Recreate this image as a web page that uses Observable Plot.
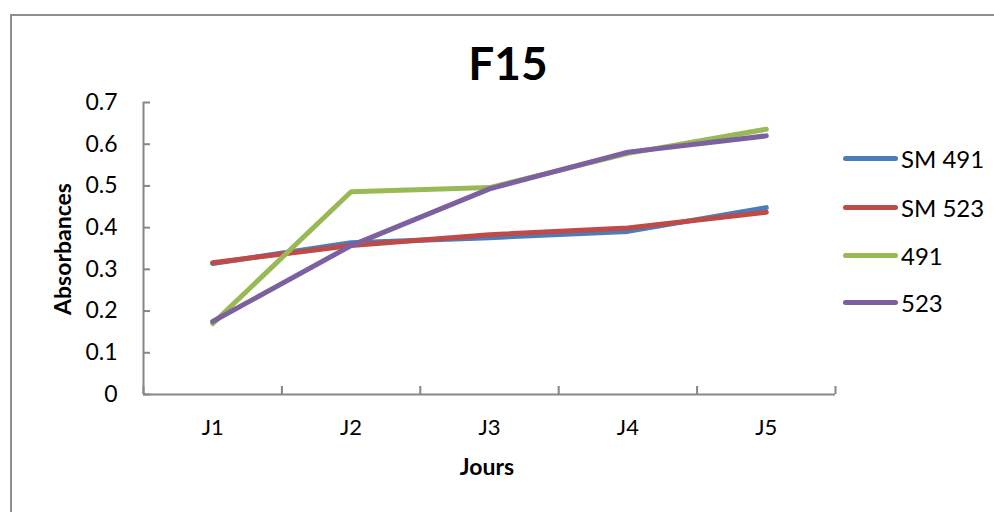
<!DOCTYPE html>
<html>
<head>
<meta charset="utf-8">
<script src="https://cdn.jsdelivr.net/npm/d3@7"></script>
<script src="https://cdn.jsdelivr.net/npm/@observablehq/plot@0.6"></script>
<style>
  html, body { margin: 0; padding: 0; background: #fff; overflow: hidden; }
  body { width: 994px; height: 512px; position: relative; font-family: Lato, "Open Sans", sans-serif; }
  #frame { position: absolute; left: 10px; top: 14px; width: 1000px; height: 520px; border: 2px solid #8e8e8e; box-sizing: border-box; }
  #chart { position: absolute; left: 0; top: 0; }
  .title { position: absolute; left: 0; width: 1016px; top: 35px; text-align: center; font-weight: bold; font-size: 46px; }
  .xtitle { position: absolute; left: 387px; width: 200px; top: 452px; text-align: center; font-weight: bold; font-size: 23px; }
  .ytitle { position: absolute; left: 62px; top: 249px; transform: translate(-50%, -50%) rotate(-90deg); font-weight: bold; font-size: 23px; white-space: nowrap; }
  .legend { position: absolute; left: 843px; top: 0; }
  .legend .item { position: absolute; left: 0; width: 160px; height: 30px; display: flex; align-items: center; font-size: 24px; }
  .legend .sw { width: 55px; height: 5px; border-radius: 3px; margin-right: 3px; }
</style>
</head>
<body>
<div id="frame"></div>
<div id="chart"></div>
<div class="title">F15</div>
<div class="xtitle">Jours</div>
<div class="ytitle">Absorbances</div>
<div class="legend" id="legend"></div>
<script>
const days = ["J1", "J2", "J3", "J4", "J5"];
const seriesNames = ["SM 491", "SM 523", "491", "523"];
const seriesColors = ["#4A7EBB", "#BE4B48", "#98B954", "#7D60A0"];
const sm491 = [0.314, 0.364, 0.376, 0.391, 0.448];
const sm523 = [0.316, 0.357, 0.383, 0.399, 0.437];
const v491 = [0.170, 0.486, 0.496, 0.578, 0.636];
const v523 = [0.175, 0.357, 0.493, 0.581, 0.620];
const yTicks = [0, 0.1, 0.2, 0.3, 0.4, 0.5, 0.6, 0.7];

const seriesValues = [sm491, sm523, v491, v523];
const rows = [];
seriesNames.forEach((name, s) => {
  seriesValues[s].forEach((v, i) => rows.push({series: name, idx: i + 1, day: days[i], value: v}));
});
const centers = days.map((d, i) => i + 1);
const bounds = [0.5, 1.5, 2.5, 3.5, 4.5, 5.5];
const axisColor = "#868686";

const plot = Plot.plot({
  width: 994,
  height: 512,
  marginLeft: 143,
  marginRight: 159,
  marginTop: 102,
  marginBottom: 118,
  style: {fontFamily: "Lato, 'Open Sans', sans-serif", fontSize: "22px", color: "#000", background: "transparent"},
  x: {type: "linear", domain: [0.5, 5.5]},
  y: {domain: [0, 0.7]},
  color: {domain: seriesNames, range: seriesColors},
  marks: [
    Plot.axisY({ticks: yTicks, fill: "none", stroke: axisColor, tickSize: 7, dx: 7, strokeWidth: 2, label: null}),
    Plot.axisY({ticks: yTicks, stroke: "none", tickSize: 0, tickPadding: 26, tickFormat: d => d === 0 ? "0" : d3.format(".1f")(d), label: null, fontSize: 23}),
    Plot.axisX({ticks: bounds, fill: "none", stroke: axisColor, tickSize: 8, dy: -8, strokeWidth: 2, label: null}),
    Plot.axisX({ticks: centers, stroke: "none", tickSize: 0, tickPadding: 25, tickFormat: i => days[i - 1], label: null, fontSize: 22}),
    Plot.ruleY([0], {stroke: axisColor, strokeWidth: 2}),
    Plot.ruleX([0.5], {stroke: axisColor, strokeWidth: 2}),
    Plot.line(rows, {x: "idx", y: "value", z: "series", stroke: "series", strokeWidth: 5, strokeLinecap: "round", strokeLinejoin: "round"})
  ]
});
document.getElementById("chart").appendChild(plot);

const legend = document.getElementById("legend");
const legendTops = [143, 192, 240, 287];
seriesNames.forEach((name, i) => {
  const item = document.createElement("div");
  item.className = "item";
  item.style.top = legendTops[i] + "px";
  const sw = document.createElement("div");
  sw.className = "sw";
  sw.style.background = seriesColors[i];
  const t = document.createElement("span");
  t.textContent = name;
  item.appendChild(sw);
  item.appendChild(t);
  legend.appendChild(item);
});
</script>
</body>
</html>
